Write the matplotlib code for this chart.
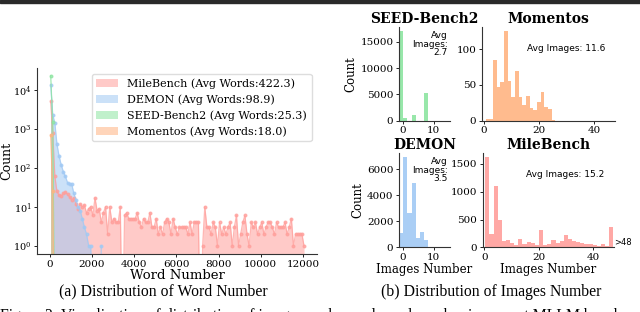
import numpy as np
import matplotlib.pyplot as plt
from matplotlib.patches import Rectangle

plt.rcParams['font.family'] = 'DejaVu Serif'
plt.rcParams['mathtext.fontset'] = 'dejavuserif'

# ---- word-number histograms (bin width 100 words) ----
word_bin = 100
mile_words = [5000, 800, 60, 25, 20, 19, 22, 24, 21, 18,
              15, 17, 12, 9, 12, 10, 11, 7, 9, 10,
              6, 17, 8, 9, 4, 7, 10, 2, 10, 4,
              5, 4, 4, 10, 0, 6, 7, 5, 5, 5,
              5, 7, 4, 3, 5, 4, 4, 7, 3, 3,
              5, 2, 3, 2, 4, 5, 4, 2, 5, 3,
              2, 3, 3, 3, 3, 2, 4, 2, 4, 4,
              4, 0, 1, 10, 3, 3, 2, 4, 3, 1,
              4, 2, 3, 2, 3, 4, 1, 3, 6, 1,
              2, 4, 6, 2, 1, 4, 3, 4, 2, 3,
              4, 2, 3, 4, 4, 3, 2, 4, 3, 3,
              3, 4, 2, 3, 5, 1, 2, 2, 2, 2, 1]
demon_words = [13500, 2300, 1400, 400, 200, 120, 80, 60, 42, 38,
               38, 22, 15, 10, 8, 5, 3, 2, 1, 1,
               0, 0, 0, 0, 1]
seed_words = [23000, 1500, 0]
momentos_words = [700, 25, 0]

word_names = ['MileBench', 'DEMON', 'SEED-Bench2', 'Momentos']
avg_words = [422.3, 98.9, 25.3, 18.0]

# ---- image-number histograms ----
seed_img_start, seed_img_width = -1.1, 1.31
seed_imgs = [17000, 500, 0, 1100, 0, 0, 5300]
demon_img_start, demon_img_width = -1.1, 1.31
demon_imgs = [1120, 6900, 2650, 4950, 750, 1150, 580]
momentos_img_start, momentos_img_width = 0.75, 1.33
momentos_imgs = [2, 2, 85, 47, 54, 125, 55, 33, 70, 33, 22, 34, 18, 15, 26, 40, 19, 16, 1]
mile_img_start, mile_img_width = 0.3, 1.52
mile_imgs = [1620, 240, 1100, 490, 110, 130, 70, 50, 150, 60,
             100, 70, 40, 310, 50, 60, 130, 80, 120, 220,
             150, 120, 100, 80, 60, 60, 40, 30, 60, 30, 360]
avg_imgs = {'SEED-Bench2': 2.7, 'Momentos': 11.6, 'DEMON': 3.5, 'MileBench': 15.2}

colors = {'MileBench': '#FF9F9B', 'DEMON': '#A1C9F4',
          'SEED-Bench2': '#8DE5A1', 'Momentos': '#FFB482'}

fig = plt.figure(figsize=(6.4, 3.12), dpi=100)

# top rule
fig.patches.append(Rectangle((0, 1 - 3 / 312), 1, 3 / 312, transform=fig.transFigure,
                             color='#2a2a2a', zorder=10))


def style_axes(ax):
    for s in ['top', 'right']:
        ax.spines[s].set_visible(False)
    for s in ['left', 'bottom']:
        ax.spines[s].set_linewidth(0.8)
        ax.spines[s].set_color('#333333')
    ax.tick_params(labelsize=7.5, length=2.5, width=0.6, pad=1.5)


# ---- (a) word number ----
ax = fig.add_axes([0.058, 0.186, 0.4375, 0.596])
for name, counts in zip(word_names, [mile_words, demon_words, seed_words, momentos_words]):
    counts = np.array(counts, dtype=float)
    x = np.arange(len(counts)) * word_bin + word_bin / 2
    y = np.where(counts > 0, counts, 1e-3)
    avg = avg_words[word_names.index(name)]
    ax.fill_between(x, y, 1e-3, color=colors[name], alpha=0.55, lw=0,
                    label='%s (Avg Words:%.1f)' % (name, avg))
    ax.plot(x, y, color=colors[name], lw=0.9, marker='o', ms=1.9, alpha=0.75)
ax.set_yscale('log')
ax.set_xlim(-590, 12670)
ax.set_ylim(0.62, 3.6e4)
ax.set_xticks(np.arange(0, 12001, 2000))
ax.minorticks_off()
style_axes(ax)
ax.tick_params(axis='y', labelsize=7)
ax.set_xlabel('Word Number', fontsize=9.5, labelpad=0)
ax.set_ylabel('Count', fontsize=9)
ax.yaxis.set_label_coords(-0.085, 0.5)
ax.legend(loc='upper right', fontsize=8, frameon=True, fancybox=True,
          edgecolor='#dddddd', framealpha=1, handlelength=2.0, labelspacing=0.5)

# ---- (b) image number ----
panels = [
    ('SEED-Bench2', [0.6234, 0.613, 0.0797, 0.301], seed_img_start, seed_img_width, seed_imgs),
    ('Momentos', [0.7527, 0.613, 0.2083, 0.301], momentos_img_start, momentos_img_width, momentos_imgs),
    ('DEMON', [0.6234, 0.2074, 0.0797, 0.303], demon_img_start, demon_img_width, demon_imgs),
    ('MileBench', [0.754, 0.2074, 0.2052, 0.303], mile_img_start, mile_img_width, mile_imgs),
]
for name, rect, start, width, counts in panels:
    bx = fig.add_axes(rect)
    lefts = start + width * np.arange(len(counts))
    bx.bar(lefts, counts, width=width, align='edge', color=colors[name], alpha=0.9, lw=0)
    bx.set_title(name, fontsize=10, fontweight='bold', pad=2.5)
    style_axes(bx)
    if name in ('SEED-Bench2', 'DEMON'):
        bx.set_xlim(-1.2, 15.2)
        bx.set_xticks([0, 10])
        bx.set_ylabel('Count', fontsize=8.5, labelpad=2)
        bx.text(0.95, 0.955, 'Avg\nImages:\n%.1f' % avg_imgs[name], transform=bx.transAxes,
                ha='right', va='top', fontsize=6.5, family='DejaVu Sans', linespacing=0.95)
    else:
        bx.set_xlim(-0.7, 47.6)
        bx.set_xticks([0, 20, 40])
        bx.text(0.63, 0.765, 'Avg Images: %.1f' % avg_imgs[name], transform=bx.transAxes,
                ha='center', va='center', fontsize=6.5, family='DejaVu Sans')
    if name == 'SEED-Bench2':
        bx.set_yticks([0, 5000, 10000, 15000])
    if name == 'Momentos':
        bx.set_yticks([0, 50, 100])
    if name == 'DEMON':
        bx.set_yticks([0, 2000, 4000, 6000])
    if name == 'MileBench':
        bx.set_yticks([0, 500, 1000, 1500])
        bx.text(1.005, 0.0, '>48', transform=bx.transAxes, ha='left', va='bottom',
                fontsize=6, family='DejaVu Sans')
    if name in ('DEMON', 'MileBench'):
        bx.set_xlabel('Images Number', fontsize=8.5, labelpad=1)

# captions
fig.text(163 / 640, 1 - 291 / 312, '(a) Distribution of Word Number', ha='center', va='center',
         fontsize=11.3, family='Liberation Serif')
fig.text(491.5 / 640, 1 - 291.5 / 312, '(b) Distribution of Images Number', ha='center', va='center',
         fontsize=11.3, family='Liberation Serif')
# figure caption line, cut by the bottom edge as in the source crop
fig.text(0.0, -0.026, 'Figure 2: Visualization of distribution of image number and word number in current MLLM bench',
         ha='left', va='baseline', fontsize=11.3, family='Liberation Serif')

fig.savefig('out.png', dpi=100)
